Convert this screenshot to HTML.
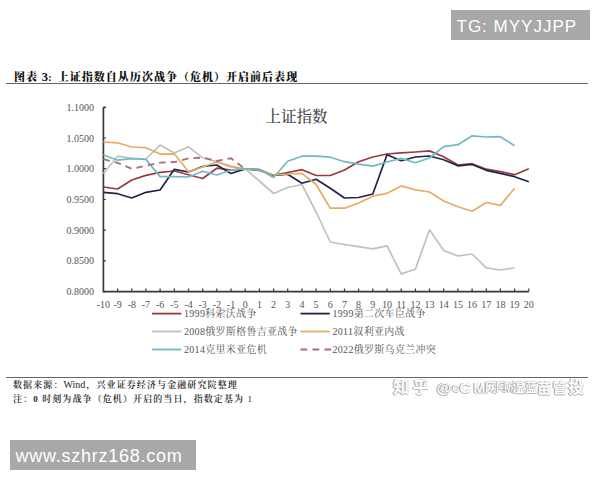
<!DOCTYPE html>
<html><head><meta charset="utf-8"><style>
html,body{margin:0;padding:0;background:#fff;}
body{width:600px;height:480px;position:relative;overflow:hidden;}
.abs{position:absolute;}
#tg{left:451px;top:10px;width:139px;height:30px;background:#a8a8a8;}
#tg span{position:absolute;left:5.5px;top:7px;font:17px "Liberation Sans",sans-serif;letter-spacing:1px;color:#fff;white-space:nowrap;}
#www{left:10px;top:440px;width:186px;height:30px;background:#a8a8a8;}
#www span{position:absolute;left:5.5px;top:5.5px;font:18px "Liberation Sans",sans-serif;letter-spacing:0.75px;color:#fff;white-space:nowrap;}
#title{left:14px;top:67.5px;font:900 11px "Liberation Serif", "Noto Serif CJK SC", serif;letter-spacing:1.02px;color:#111;white-space:nowrap;}
.hr{height:1.5px;background:#666;left:6px;width:582px;}
.ft{left:13px;font:600 9px "Liberation Serif", "Noto Serif CJK SC", serif;letter-spacing:1.1px;color:#222;white-space:nowrap;}
#wm span{position:absolute;font-family:"Liberation Sans", "Noto Sans CJK SC", sans-serif;font-weight:bold;line-height:1;color:#fff;white-space:nowrap;text-shadow:-1px 0 0 #999,0 1px 0 #bbb,0 0 1px #999;}
svg{position:absolute;left:0;top:0;}
.ax{font:10px "Liberation Serif", "Noto Serif CJK SC", serif;fill:#555;}
.lg{font:10px "Liberation Serif", "Noto Serif CJK SC", serif;fill:#555;letter-spacing:0.3px;}
.ct{font:500 15.5px "Liberation Serif", "Noto Serif CJK SC", serif;fill:#444;}
</style></head><body>
<div id="tg" class="abs"><span>TG: MYYJJPP</span></div>
<div id="title" class="abs">图表 <span style="font-size:12.5px;letter-spacing:0">3</span>:<span style="display:inline-block;width:5px"></span>上证指数自从历次战争（危机）开启前后表现</div>
<div class="abs hr" style="top:82.8px"></div>
<svg width="600" height="480" viewBox="0 0 600 480">
<text x="94" y="110.8" text-anchor="end" class="ax">1.1000</text>
<text x="94" y="141.5" text-anchor="end" class="ax">1.0500</text>
<text x="94" y="172.2" text-anchor="end" class="ax">1.0000</text>
<text x="94" y="203.0" text-anchor="end" class="ax">0.9500</text>
<text x="94" y="233.7" text-anchor="end" class="ax">0.9000</text>
<text x="94" y="264.4" text-anchor="end" class="ax">0.8500</text>
<text x="94" y="295.1" text-anchor="end" class="ax">0.8000</text>
<text x="103.4" y="307.5" text-anchor="middle" class="ax">-10</text>
<text x="117.6" y="307.5" text-anchor="middle" class="ax">-9</text>
<text x="131.8" y="307.5" text-anchor="middle" class="ax">-8</text>
<text x="145.9" y="307.5" text-anchor="middle" class="ax">-7</text>
<text x="160.1" y="307.5" text-anchor="middle" class="ax">-6</text>
<text x="174.3" y="307.5" text-anchor="middle" class="ax">-5</text>
<text x="188.5" y="307.5" text-anchor="middle" class="ax">-4</text>
<text x="202.7" y="307.5" text-anchor="middle" class="ax">-3</text>
<text x="216.8" y="307.5" text-anchor="middle" class="ax">-2</text>
<text x="231.0" y="307.5" text-anchor="middle" class="ax">-1</text>
<text x="245.2" y="307.5" text-anchor="middle" class="ax">0</text>
<text x="259.4" y="307.5" text-anchor="middle" class="ax">1</text>
<text x="273.6" y="307.5" text-anchor="middle" class="ax">2</text>
<text x="287.7" y="307.5" text-anchor="middle" class="ax">3</text>
<text x="301.9" y="307.5" text-anchor="middle" class="ax">4</text>
<text x="316.1" y="307.5" text-anchor="middle" class="ax">5</text>
<text x="330.3" y="307.5" text-anchor="middle" class="ax">6</text>
<text x="344.5" y="307.5" text-anchor="middle" class="ax">7</text>
<text x="358.6" y="307.5" text-anchor="middle" class="ax">8</text>
<text x="372.8" y="307.5" text-anchor="middle" class="ax">9</text>
<text x="387.0" y="307.5" text-anchor="middle" class="ax">10</text>
<text x="401.2" y="307.5" text-anchor="middle" class="ax">11</text>
<text x="415.4" y="307.5" text-anchor="middle" class="ax">12</text>
<text x="429.5" y="307.5" text-anchor="middle" class="ax">13</text>
<text x="443.7" y="307.5" text-anchor="middle" class="ax">14</text>
<text x="457.9" y="307.5" text-anchor="middle" class="ax">15</text>
<text x="472.1" y="307.5" text-anchor="middle" class="ax">16</text>
<text x="486.3" y="307.5" text-anchor="middle" class="ax">17</text>
<text x="500.4" y="307.5" text-anchor="middle" class="ax">18</text>
<text x="514.6" y="307.5" text-anchor="middle" class="ax">19</text>
<text x="528.8" y="307.5" text-anchor="middle" class="ax">20</text>
<path d="M103.4,107.3 H105.9 M103.4,107.3 V291.6 H528.8" fill="none" stroke="#3a3a3a" stroke-width="1.7"/>
<path d="M103.4,138.0 H105.9 M103.4,168.7 H105.9 M103.4,199.5 H105.9 M103.4,230.2 H105.9 M103.4,260.9 H105.9 M103.4,291.6 H105.9 M117.6,291.6 V288.6 M131.8,291.6 V288.6 M145.9,291.6 V288.6 M160.1,291.6 V288.6 M174.3,291.6 V288.6 M188.5,291.6 V288.6 M202.7,291.6 V288.6 M216.8,291.6 V288.6 M231.0,291.6 V288.6 M245.2,291.6 V288.6 M259.4,291.6 V288.6 M273.6,291.6 V288.6 M287.7,291.6 V288.6 M301.9,291.6 V288.6 M316.1,291.6 V288.6 M330.3,291.6 V288.6 M344.5,291.6 V288.6 M358.6,291.6 V288.6 M372.8,291.6 V288.6 M387.0,291.6 V288.6 M401.2,291.6 V288.6 M415.4,291.6 V288.6 M429.5,291.6 V288.6 M443.7,291.6 V288.6 M457.9,291.6 V288.6 M472.1,291.6 V288.6 M486.3,291.6 V288.6 M500.4,291.6 V288.6 M514.6,291.6 V288.6 M528.8,291.6 V288.6" fill="none" stroke="#3a3a3a" stroke-width="1.2"/>
<polyline points="103.4,187.0 117.6,189.0 131.8,180.0 145.9,175.4 160.1,172.3 174.3,171.0 188.5,174.8 202.7,178.5 216.8,168.2 231.0,170.0 245.2,168.9 259.4,170.5 273.6,175.0 287.7,172.5 301.9,169.7 316.1,175.5 330.3,175.5 344.5,170.0 358.6,161.7 372.8,157.0 387.0,154.0 401.2,152.9 415.4,152.0 429.5,150.9 443.7,156.7 457.9,165.0 472.1,163.7 486.3,169.2 500.4,171.7 514.6,174.7 528.8,168.7" fill="none" stroke="#993a40" stroke-width="1.7" stroke-linejoin="round"/>
<polyline points="103.4,192.3 117.6,193.7 131.8,198.0 145.9,192.3 160.1,190.0 174.3,169.3 188.5,172.0 202.7,166.5 216.8,165.0 231.0,173.5 245.2,168.9 259.4,169.5 273.6,175.5 287.7,174.2 301.9,183.3 316.1,179.2 330.3,188.2 344.5,198.0 358.6,197.5 372.8,194.0 387.0,154.7 401.2,160.7 415.4,157.0 429.5,156.0 443.7,159.8 457.9,165.8 472.1,164.5 486.3,170.3 500.4,173.3 514.6,176.7 528.8,181.7" fill="none" stroke="#1e2449" stroke-width="1.7" stroke-linejoin="round"/>
<polyline points="103.4,173.5 117.6,156.2 131.8,158.3 145.9,159.0 160.1,145.1 174.3,153.0 188.5,146.8 202.7,157.8 216.8,161.6 231.0,166.0 245.2,168.9 259.4,181.0 273.6,193.5 287.7,187.5 301.9,184.5 316.1,212.0 330.3,242.0 344.5,244.5 358.6,246.7 372.8,248.8 387.0,245.9 401.2,273.9 415.4,269.3 429.5,229.7 443.7,250.5 457.9,256.0 472.1,254.0 486.3,267.9 500.4,270.0 514.6,268.0" fill="none" stroke="#c0c0c0" stroke-width="1.7" stroke-linejoin="round"/>
<polyline points="103.4,142.0 117.6,142.8 131.8,147.0 145.9,147.7 160.1,154.1 174.3,153.8 188.5,171.8 202.7,167.0 216.8,162.0 231.0,167.0 245.2,168.9 259.4,169.8 273.6,175.0 287.7,174.0 301.9,173.3 316.1,184.5 330.3,208.2 344.5,208.2 358.6,203.0 372.8,196.2 387.0,193.3 401.2,185.9 415.4,189.9 429.5,192.0 443.7,201.0 457.9,206.7 472.1,211.3 486.3,202.5 500.4,205.4 514.6,188.3" fill="none" stroke="#e6ad62" stroke-width="1.7" stroke-linejoin="round"/>
<polyline points="103.4,155.0 117.6,160.2 131.8,158.7 145.9,159.4 160.1,176.6 174.3,176.6 188.5,177.0 202.7,171.2 216.8,175.0 231.0,170.0 245.2,168.9 259.4,169.5 273.6,177.5 287.7,161.2 301.9,156.2 316.1,156.2 330.3,157.2 344.5,161.7 358.6,164.2 372.8,166.1 387.0,162.0 401.2,158.4 415.4,162.7 429.5,158.0 443.7,146.7 457.9,144.7 472.1,135.8 486.3,137.0 500.4,136.7 514.6,145.8" fill="none" stroke="#73b8c4" stroke-width="1.7" stroke-linejoin="round"/>
<polyline points="103.4,159.2 117.6,162.8 131.8,168.8 145.9,165.8 160.1,162.6 174.3,162.0 188.5,158.4 202.7,157.6 216.8,161.0 231.0,158.3 245.2,168.9" fill="none" stroke="#b06a78" stroke-width="1.8" stroke-dasharray="6.6,5"/>
<path d="M152,313.6 H181.3" stroke="#993a40" stroke-width="1.8"/>
<text x="184" y="316.9" class="lg">1999科索沃战争</text>
<path d="M300.5,313.6 H329.8" stroke="#1e2449" stroke-width="1.8"/>
<text x="332.5" y="316.9" class="lg">1999第二次车臣战争</text>
<path d="M152,331.5 H181.3" stroke="#c0c0c0" stroke-width="1.8"/>
<text x="184" y="334.8" class="lg">2008俄罗斯格鲁吉亚战争</text>
<path d="M300.5,331.5 H329.8" stroke="#e6ad62" stroke-width="1.8"/>
<text x="332.5" y="334.8" class="lg">2011叙利亚内战</text>
<path d="M152,349.5 H181.3" stroke="#73b8c4" stroke-width="1.8"/>
<text x="184" y="352.8" class="lg">2014克里米亚危机</text>
<path d="M300.5,349.5 H331.3" stroke="#b06a78" stroke-width="1.8" stroke-dasharray="6.7,5.3"/>
<text x="332.5" y="352.8" class="lg">2022俄罗斯乌克兰冲突</text>
<text x="265.5" y="121.5" class="ct">上证指数</text>
</svg>
<div class="abs hr" style="top:376.7px"></div>
<div class="abs ft" style="top:378px">数据来源：<span style="font-weight:400;font-size:10px;letter-spacing:0;margin-right:1px">Wind</span>，兴业证券经济与金融研究院整理</div>
<div class="abs ft" style="top:392px">注：0 时刻为战争（危机）开启的当日，指数定基为 <span style="font-weight:400">1</span></div>
<div id="wm"><span style="left:393px;font-size:16px;top:379.7px">知</span><span style="left:412.5px;font-size:16px;top:379.7px">乎</span><span style="left:436.5px;font-size:15px;top:380.2px">@</span><span style="left:452px;font-size:13px;top:381.4px">c</span><span style="left:459.5px;font-size:15px;top:380.2px">C</span><span style="left:473.5px;font-size:14px;top:380.8px">M</span><span style="left:485px;font-size:12px;top:381.9px">网</span><span style="left:496px;font-size:11px;top:382.4px">阿</span><span style="left:504px;font-size:10px;top:383.0px">听</span><span style="left:512px;font-size:13px;top:381.4px">湿</span><span style="left:525px;font-size:12px;top:381.9px">蓝</span><span style="left:537px;font-size:14px;top:380.8px">苗</span><span style="left:552.5px;font-size:14px;top:380.8px">管</span><span style="left:568px;font-size:16px;top:379.7px">投</span></div>
<div id="www" class="abs"><span>www.szhrz168.com</span></div>
</body></html>
